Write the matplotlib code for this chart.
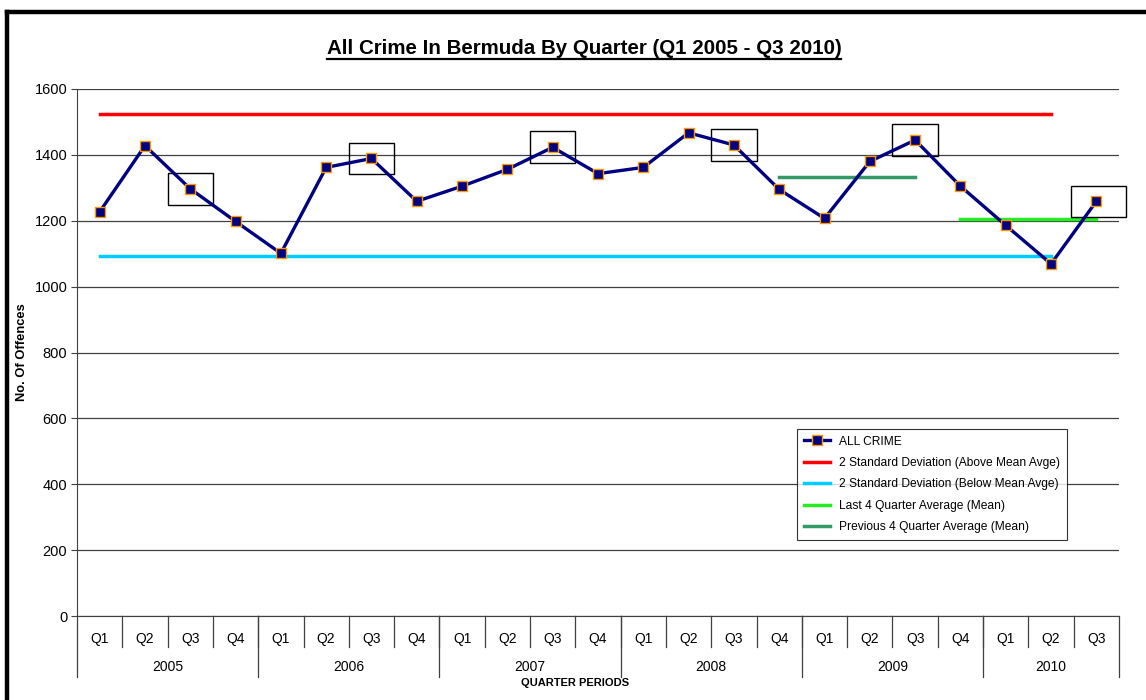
import numpy as np
import matplotlib
matplotlib.use("Agg")
import matplotlib.pyplot as plt
from matplotlib.lines import Line2D
from matplotlib.patches import Rectangle

plt.rcParams["font.family"] = ["Liberation Sans", "DejaVu Sans"]

# --- data ---
years = ["2005", "2006", "2007", "2008", "2009", "2010"]
quarters_per_year = [4, 4, 4, 4, 4, 3]
quarter_labels = ["Q1", "Q2", "Q3", "Q4"] * 5 + ["Q1", "Q2", "Q3"]
all_crime = [1227, 1428, 1297, 1198, 1101, 1362, 1389, 1259,
             1305, 1356, 1423, 1343, 1362, 1467, 1430, 1295,
             1207, 1380, 1445, 1305, 1186, 1069, 1259]
upper_2sd = 1525
lower_2sd = 1093
sd_span = (0, 21)            # Q1 2005 .. Q2 2010
prev4_avg = 1332
prev4_span = (15, 18)        # Q4 2008 .. Q3 2009
last4_avg = 1205
last4_span = (19, 22)        # Q4 2009 .. Q3 2010
boxed = [2, 6, 10, 14, 18, 22]   # Q3 of each year

NAVY = "#000080"
fig = plt.figure(figsize=(11.46, 7.0), dpi=100)
ax = fig.add_axes([77 / 1146, 1 - 616 / 700, (1119 - 77) / 1146, (616 - 89) / 700])

x = np.arange(len(all_crime))
ax.plot(x, all_crime, color=NAVY, lw=2.4, marker="s", ms=6.5, mfc=NAVY,
        mec="#FF9900", mew=1.0, label="ALL CRIME", zorder=5)
ax.plot(sd_span, [upper_2sd] * 2, color="#FF0000", lw=2.5,
        label="2 Standard Deviation (Above Mean Avge)", zorder=3)
ax.plot(sd_span, [lower_2sd] * 2, color="#00CCFF", lw=2.5,
        label="2 Standard Deviation (Below Mean Avge)", zorder=3)
ax.plot(last4_span, [last4_avg] * 2, color="#22EE22", lw=2.5,
        label="Last 4 Quarter Average (Mean)", zorder=3)
ax.plot(prev4_span, [prev4_avg] * 2, color="#339966", lw=2.5,
        label="Previous 4 Quarter Average (Mean)", zorder=3)

for i in boxed:
    w0, w1 = (0.5, 0.5) if i != len(all_crime) - 1 else (0.55, 0.65)
    ax.add_patch(Rectangle((i - w0, all_crime[i] - 48), w0 + w1, 96,
                           fill=False, ec="black", lw=1.0, zorder=4,
                           clip_on=False))

ax.set_xlim(-0.5, len(all_crime) - 0.5)
ax.set_ylim(0, 1600)
ax.set_yticks(range(0, 1601, 200))
ax.yaxis.grid(True, color="#404040", lw=0.9)
ax.set_axisbelow(True)
ax.tick_params(axis="y", direction="out", length=4, width=0.8,
               color="#404040", labelsize=10.5, pad=3)
ax.set_xticks([])
for s in ("top", "right"):
    ax.spines[s].set_visible(False)
ax.spines["left"].set_color("#404040")
ax.spines["bottom"].set_color("#404040")

# multi-level category axis
tr = ax.get_xaxis_transform()
h = 527.0
bounds = np.cumsum([0] + quarters_per_year) - 0.5
for i in range(1, len(all_crime)):
    ax.plot([i - 0.5] * 2, [0, -30.7 / h], transform=tr, clip_on=False,
            color="#404040", lw=0.9)
for b in bounds:
    ax.plot([b] * 2, [0, -60.7 / h], transform=tr, clip_on=False,
            color="#404040", lw=0.9)
for i, q in enumerate(quarter_labels):
    ax.text(i, -23 / h, q, transform=tr, ha="center", va="center", fontsize=10)
for yr, a, b in zip(years, bounds[:-1], bounds[1:]):
    ax.text((a + b) / 2, -51 / h, yr, transform=tr, ha="center", va="center",
            fontsize=10)

fig.text(575 / 1146, 1 - 683 / 700, "QUARTER PERIODS", ha="center",
         va="center", fontsize=8, fontweight="bold")
fig.text(22 / 1146, 1 - 352 / 700, "No. Of Offences", rotation=90,
         ha="center", va="center", fontsize=9.3, fontweight="bold")

title = fig.text(584 / 1146, 1 - 48 / 700,
                 "All Crime In Bermuda By Quarter (Q1 2005 - Q3 2010)",
                 ha="center", va="center", fontsize=14.8, fontweight="bold")
fig.canvas.draw()
bb = title.get_window_extent()
uy = (bb.y0 - 1) / fig.bbox.height
fig.add_artist(Line2D([bb.x0 / fig.bbox.width, bb.x1 / fig.bbox.width], [uy, uy],
                      color="black", lw=1.6))

leg = ax.legend(loc="upper left", bbox_to_anchor=(791 / 1146, 1 - 423 / 700),
                bbox_transform=fig.transFigure, fontsize=8.65, frameon=True,
                fancybox=False, edgecolor="black", handlelength=2.2,
                labelspacing=0.78, borderpad=0.55, handletextpad=0.75)
leg.get_frame().set_linewidth(0.8)
leg.set_zorder(10)

# outer chart frame (top and left edges)
fig.add_artist(Line2D([7 / 1146, 1], [1 - 12 / 700] * 2, color="black", lw=3.2))
fig.add_artist(Line2D([7 / 1146] * 2, [0, 1 - 12 / 700], color="black", lw=3.2))

fig.savefig("out.png", dpi=100)
